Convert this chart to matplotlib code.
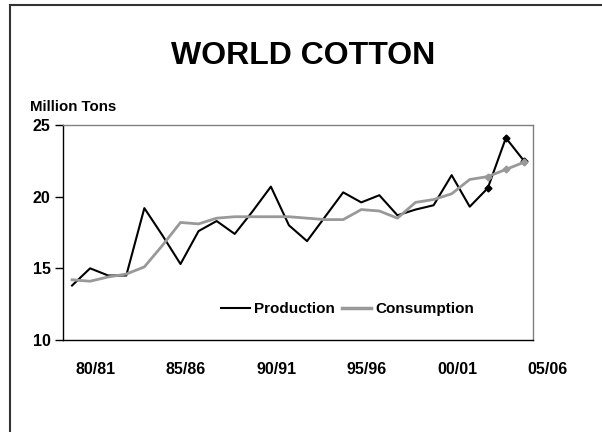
import matplotlib.pyplot as plt
from matplotlib.lines import Line2D

# world cotton, million tons, 26 seasons (79/80 .. 04/05)
production = [13.8, 15.0, 14.5, 14.5, 19.2, 17.3, 15.3, 17.6, 18.3, 17.4, 19.0, 20.7, 18.0,
              16.9, 18.6, 20.3, 19.6, 20.1, 18.7, 19.1, 19.4, 21.5, 19.3, 20.6, 24.1, 22.5]
consumption = [14.2, 14.1, 14.4, 14.6, 15.1, 16.6, 18.2, 18.1, 18.5, 18.6, 18.6, 18.6, 18.6,
               18.5, 18.4, 18.4, 19.1, 19.0, 18.5, 19.6, 19.8, 20.2, 21.2, 21.4, 21.9, 22.4]
x_labels = ["80/81", "85/86", "90/91", "95/96", "00/01", "05/06"]
y_ticks = [10, 15, 20, 25]
n_marked = 3  # last seasons drawn with markers

plt.rcParams['font.family'] = ['Liberation Sans', 'DejaVu Sans']
plt.rcParams['font.weight'] = 'bold'

fig = plt.figure(figsize=(6.02, 4.32), dpi=100)
ax = fig.add_axes([63/602, 92/432, 470/602, 215/432])

xs = list(range(len(production)))
gray = '#999999'
ax.plot(xs, production, color='black', lw=1.5, label='Production')
ax.plot(xs, consumption, color=gray, lw=2, label='Consumption')
ax.plot(xs[-n_marked:], production[-n_marked:], ls='none', marker='D', ms=3.5, color='black')
ax.plot(xs[-n_marked:], consumption[-n_marked:], ls='none', marker='D', ms=3.5, color=gray)

ax.set_xlim(-0.5, len(xs) - 0.5)
ax.set_ylim(10, 25)
ax.set_yticks(y_ticks)
ax.set_yticklabels([str(v) for v in y_ticks], fontsize=11.5, fontweight='bold')
ax.set_xticks([])
ax.tick_params(axis='y', direction='out', length=6, width=1, pad=3)

ax.spines['left'].set_color('black')
ax.spines['bottom'].set_color('black')
ax.spines['top'].set_color('#808080')
ax.spines['right'].set_color('#808080')
for s in ax.spines.values():
    s.set_linewidth(1)

for i, lab in enumerate(x_labels):
    ax.text(i * 5 + 1.3, -0.135, lab, transform=ax.get_xaxis_transform(),
            ha='center', va='center', fontsize=11.5, fontweight='bold', clip_on=False)

handles = [Line2D([], [], color='black', lw=1.5), Line2D([], [], color=gray, lw=2.5)]
ax.legend(handles, ['Production', 'Consumption'], loc='center', bbox_to_anchor=(0.605, 0.144),
          ncol=2, frameon=False, handlelength=1.9, handletextpad=0.25, columnspacing=0.5,
          prop={'size': 11, 'weight': 'bold'})

fig.text(0.504, 1 - 56.5/432, 'WORLD COTTON', ha='center', va='center', fontsize=23, fontweight='bold')
fig.text(30.5/602, 1 - 107/432, 'Million Tons', ha='left', va='center', fontsize=10.8, fontweight='bold')

# chart frame (only left and top edges visible)
fig.add_artist(Line2D([10/602, 10/602], [0, 1 - 5/432], color='#333333', lw=1.5, transform=fig.transFigure))
fig.add_artist(Line2D([10/602, 1], [1 - 5/432, 1 - 5/432], color='#333333', lw=1.5, transform=fig.transFigure))

fig.savefig('out.png', dpi=100)
